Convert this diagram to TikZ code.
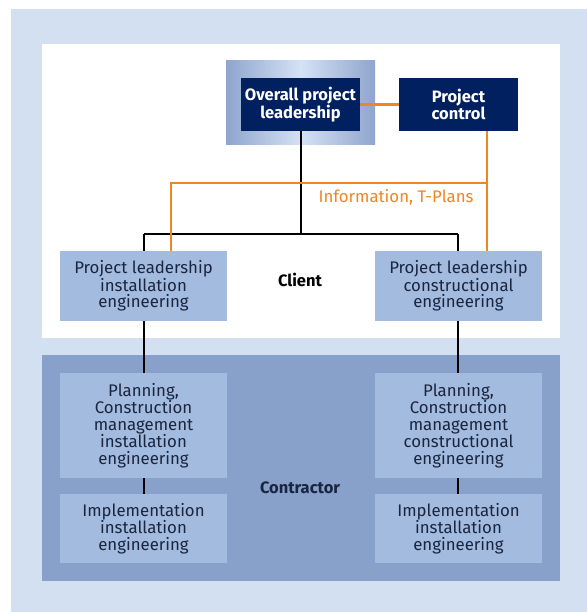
\documentclass[tikz,border=0pt]{standalone}
\usepackage{fontspec}
\setmainfont{Fira Sans}
\definecolor{bgblue}{HTML}{D3E0F2}
\definecolor{panelblue}{HTML}{87A1CA}
\definecolor{boxblue}{HTML}{A3BBDE}
\definecolor{navy}{HTML}{00205F}
\definecolor{orng}{HTML}{F08522}
\definecolor{gradedge}{HTML}{8EA5CD}
\definecolor{gradmid}{HTML}{D5E2F5}
\definecolor{txt}{HTML}{1A2540}
\begin{document}
\begin{tikzpicture}[x=1pt,y=-1pt,
  fnt/.style={font=\fontsize{16.8}{16.5}\selectfont},
  lbox/.style={fnt,fill=boxblue,draw=none,inner sep=0pt,align=center,text=txt},
  dbox/.style={fill=navy,draw=none,inner sep=0pt,align=center,font=\fontsize{16.5}{16.5}\selectfont\bfseries,text=white},
  blk/.style={draw=black,line width=2.9pt},
  org/.style={draw=orng,line width=2.9pt}]
\useasboundingbox (0,0) rectangle (587,612);
\fill[white] (0,0) rectangle (587,612);
\fill[bgblue] (11,9) rectangle (587,612);
\fill[white] (42,44) rectangle (560,338);
\fill[panelblue] (42,355) rectangle (560,581);
% gradient frame
\shade[left color=gradedge,right color=gradedge,middle color=gradmid] (226,61) rectangle (375,145);
% top boxes
\node[dbox,minimum width=119pt,minimum height=53pt] (opl) at (300.5,104.5) {Overall project\\leadership};
\node[dbox,minimum width=119pt,minimum height=53pt] (pc) at (458.5,104.5) {Project\\control};
% client boxes
\node[lbox,minimum width=167pt,minimum height=70pt] (pli) at (143.5,286) {Project leadership\\installation\\engineering};
\node[lbox,minimum width=167pt,minimum height=70pt] (plc) at (458.5,286) {Project leadership\\constructional\\engineering};
% contractor boxes
\node[lbox,minimum width=167pt,minimum height=105pt] (pcl) at (143.5,425.5) {Planning,\\Construction\\management\\installation\\engineering};
\node[lbox,minimum width=167pt,minimum height=105pt] (pcr) at (458.5,425.5) {Planning,\\Construction\\management\\constructional\\engineering};
\node[lbox,minimum width=167pt,minimum height=69pt] (iml) at (143.5,528.5) {Implementation\\installation\\engineering};
\node[lbox,minimum width=167pt,minimum height=69pt] (imr) at (458.5,528.5) {Implementation\\installation\\engineering};
% labels
\node[font=\fontsize{16.5}{16.5}\selectfont\bfseries,text=black] (client) at (300,280) {Client};
\node[font=\fontsize{16.5}{16.5}\selectfont\bfseries,text=txt] (contr) at (300,488) {Contractor};
\node[fnt,text=orng] (info) at (396,197) {Information, T-Plans};
% coordinates
\coordinate (jc) at (301,234);
\coordinate (jl) at (144,234);
\coordinate (jr) at (458,234);
\coordinate (ol) at (171,183);
\coordinate (or) at (487,183);
% black connectors
\draw[blk] (opl.south -| jc) -- (jc);
\draw[blk] (jl) -- (jr);
\draw[blk] (jl) -- (pli.north -| jl);
\draw[blk] (jr) -- (plc.north -| jr);
\draw[blk] (pli.south -| jl) -- (pcl.north -| jl);
\draw[blk] (plc.south -| jr) -- (pcr.north -| jr);
\draw[blk] (pcl.south -| jl) -- (iml.north -| jl);
\draw[blk] (pcr.south -| jr) -- (imr.north -| jr);
% orange connectors
\draw[org] (opl.east) -- (pc.west);
\draw[org] (pc.south -| or) -- (or) -- (ol) -- (pli.north -| ol);
\draw[org] (or) -- (plc.north -| or);
\end{tikzpicture}
\end{document}
